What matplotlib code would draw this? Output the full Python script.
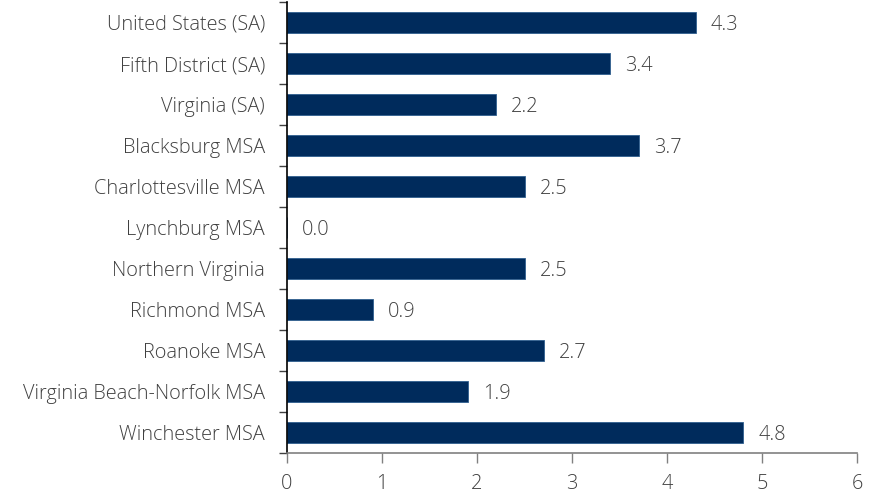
import matplotlib
matplotlib.use("Agg")
import matplotlib.pyplot as plt
import numpy as np

categories = ["United States (SA)", "Fifth District (SA)", "Virginia (SA)", "Blacksburg MSA",
              "Charlottesville MSA", "Lynchburg MSA", "Northern Virginia", "Richmond MSA",
              "Roanoke MSA", "Virginia Beach-Norfolk MSA", "Winchester MSA"]
values = [4.3, 3.4, 2.2, 3.7, 2.5, 0.0, 2.5, 0.9, 2.7, 1.9, 4.8]
xticks = [0, 1, 2, 3, 4, 5, 6]

plt.rcParams['font.family'] = ['Open Sans', 'DejaVu Sans']
text_color = '#404040'
bar_color = '#002B5C'
fs = 14.3

fig = plt.figure(figsize=(8.85, 4.93), dpi=100)
ax = fig.add_axes([287/885, 40/493, 570/885, 451/493])

y = np.arange(len(categories))
ax.barh(y, values, height=0.49, color=bar_color, edgecolor='#2F5F8F', linewidth=0.6)
ax.set_ylim(len(categories) - 0.5, -0.5)
ax.set_xlim(0, 6)

for yi, v in zip(y, values):
    ax.annotate(f"{v:.1f}", xy=(v, yi), xytext=(11, -1.5), textcoords='offset points',
                ha='left', va='center', fontsize=fs, color=text_color, fontweight='light')

ax.set_yticks(y)
ax.set_yticklabels(categories, fontsize=fs, color=text_color, fontweight='light')
ax.tick_params(axis='y', which='major', length=0, pad=16)
ax.set_yticks(np.arange(-0.5, len(categories), 1.0), minor=True)
ax.tick_params(axis='y', which='minor', length=6, width=1, color='#404040', direction='out')

ax.set_xticks(xticks)
ax.set_xticklabels([str(t) for t in xticks], fontsize=fs, color=text_color, fontweight='light')
ax.tick_params(axis='x', length=7, width=1, color='#808080', pad=8)

for s in ['top', 'right']:
    ax.spines[s].set_visible(False)
ax.spines['left'].set_color('black')
ax.spines['left'].set_linewidth(1.2)
ax.spines['bottom'].set_color('#808080')
ax.spines['bottom'].set_linewidth(1.2)

fig.savefig("out.png", dpi=100)
